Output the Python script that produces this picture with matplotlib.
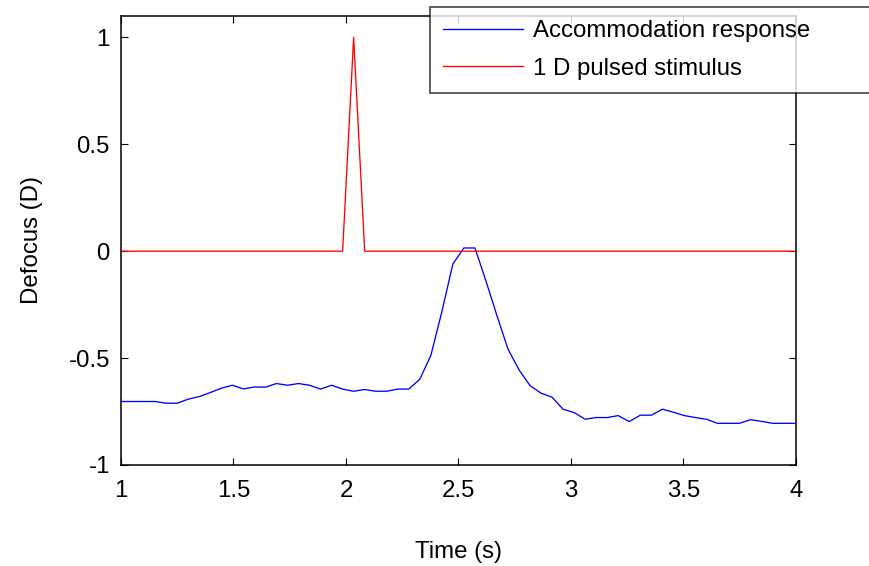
import numpy as np
import matplotlib
matplotlib.use("Agg")
import matplotlib.pyplot as plt

plt.rcParams['font.family'] = ['Liberation Sans', 'DejaVu Sans']

# sampled traces, one value per frame
accom = [-0.703, -0.703, -0.703, -0.703, -0.711, -0.711, -0.692, -0.680, -0.661, -0.641,
         -0.627, -0.644, -0.635, -0.636, -0.619, -0.627, -0.619, -0.627, -0.645, -0.627,
         -0.645, -0.655, -0.647, -0.655, -0.655, -0.645, -0.645, -0.599, -0.488, -0.283,
         -0.060, 0.015, 0.015, -0.139, -0.302, -0.458, -0.555, -0.629, -0.664, -0.683,
         -0.739, -0.755, -0.786, -0.778, -0.778, -0.769, -0.797, -0.767, -0.767, -0.739,
         -0.753, -0.769, -0.778, -0.786, -0.805, -0.805, -0.805, -0.788, -0.796, -0.805,
         -0.805, -0.805, -0.822]
stimulus = [0] * 20 + [0, 1, 0] + [0] * 40
stimulus = stimulus[:len(accom)]
t0 = 1.005
dt = 0.049
t = t0 + dt * np.arange(len(accom))
t[0] = 1.0

xticks = [1, 1.5, 2, 2.5, 3, 3.5, 4]
xticklabels = ['1', '1.5', '2', '2.5', '3', '3.5', '4']
yticks = [-1, -0.5, 0, 0.5, 1]
yticklabels = ['-1', '-0.5', '0', '0.5', '1']

fs = 17.3
fig = plt.figure(figsize=(8.7, 5.66), dpi=100, facecolor='white')
ax = fig.add_axes([121 / 870, 1 - 465 / 566, 675 / 870, 449 / 566])

ax.plot(t, accom, color='#0000ff', lw=0.95, label='Accommodation response')
ax.plot(t, stimulus, color='#ff0000', lw=0.95, label='1 D pulsed stimulus')

ax.set_xlim(1, 4)
ax.set_ylim(-1, 1.1)
ax.set_xticks(xticks)
ax.set_xticklabels(xticklabels)
ax.set_yticks(yticks)
ax.set_yticklabels(yticklabels)
ax.tick_params(direction='in', length=5, width=0.8, labelsize=fs,
               top=True, right=True)
ax.tick_params(axis='x', pad=11)
ax.tick_params(axis='y', pad=8)
for s in ax.spines.values():
    s.set_linewidth(1.1)

ax.set_xlabel('Time (s)', fontsize=fs, labelpad=28)
ax.set_ylabel('Defocus (D)', fontsize=fs, labelpad=18)

leg = fig.legend(loc='upper left', bbox_to_anchor=(430 / 870, 1 - 7 / 566, 480 / 870, 0),
                 mode='expand', fontsize=fs, frameon=True, fancybox=False,
                 edgecolor='black', borderaxespad=0, handlelength=3.3,
                 handletextpad=0.45, labelspacing=0.65, borderpad=0.55)
leg.get_frame().set_linewidth(1.1)

fig.savefig('out.png', dpi=100)
